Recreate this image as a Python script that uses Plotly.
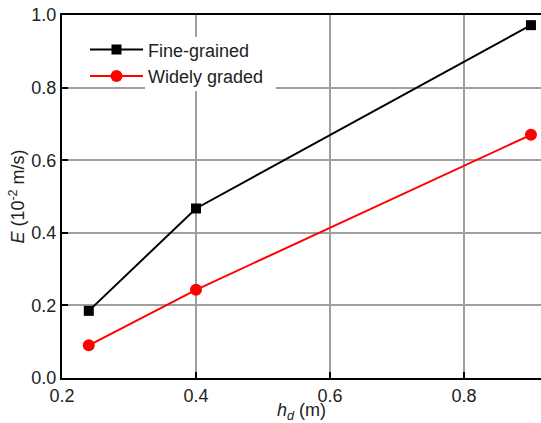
import plotly.graph_objects as go

hd = [0.24, 0.40, 0.90]
fine_grained = [0.185, 0.467, 0.972]
widely_graded = [0.090, 0.243, 0.670]
x_ticks = [0.2, 0.4, 0.6, 0.8]
y_ticks = [0.0, 0.2, 0.4, 0.6, 0.8, 1.0]

fig = go.Figure()
fig.add_trace(go.Scatter(x=hd, y=fine_grained, mode="lines+markers", name="Fine-grained",
                         line=dict(color="black", width=2),
                         marker=dict(symbol="square", size=10, color="black")))
fig.add_trace(go.Scatter(x=hd, y=widely_graded, mode="lines+markers", name="Widely graded",
                         line=dict(color="#ff0000", width=2),
                         marker=dict(symbol="circle", size=12, color="#ff0000")))

# white patch behind legend text (hides gridlines there)
fig.add_shape(type="rect", xref="x", yref="y", x0=0.324, x1=0.519, y0=0.79, y1=0.94,
              fillcolor="white", line=dict(width=0), layer="above")

fig.update_layout(
    width=541, height=423,
    margin=dict(l=62, r=0, t=15, b=45),
    paper_bgcolor="white", plot_bgcolor="white",
    font=dict(family="Liberation Sans, Arial, sans-serif", size=18, color="#222"),
    showlegend=True,
    legend=dict(x=0.048, y=0.955, xanchor="left", yanchor="top",
                bgcolor="rgba(0,0,0,0)", font=dict(size=18, color="#222"),
                itemwidth=53, tracegroupgap=0),
)
fig.update_xaxes(range=[0.2, 0.915], tickvals=x_ticks, ticktext=["0.2", "0.4", "0.6", "0.8"],
                 showgrid=True, gridcolor="#a0a0a0", gridwidth=1.5,
                 showline=True, linecolor="black", linewidth=2, mirror=True,
                 ticks="inside", ticklen=6, tickcolor="black", tickwidth=1.5,
                 zeroline=False,
                 title=dict(text="<i>h</i><sub><i>d</i></sub> (m)", standoff=2, font=dict(size=18)))
fig.update_yaxes(range=[0, 1.0], tickvals=y_ticks, ticktext=["0.0", "0.2", "0.4", "0.6", "0.8", "1.0"],
                 showgrid=True, gridcolor="#a0a0a0", gridwidth=1.5,
                 showline=True, linecolor="black", linewidth=2, mirror=False,
                 ticks="inside", ticklen=6, tickcolor="black", tickwidth=1.5,
                 zeroline=False,
                 title=dict(text="<i>E</i> (10<sup>-2</sup> m/s)", standoff=2, font=dict(size=18)))

fig.write_html("out.html")
